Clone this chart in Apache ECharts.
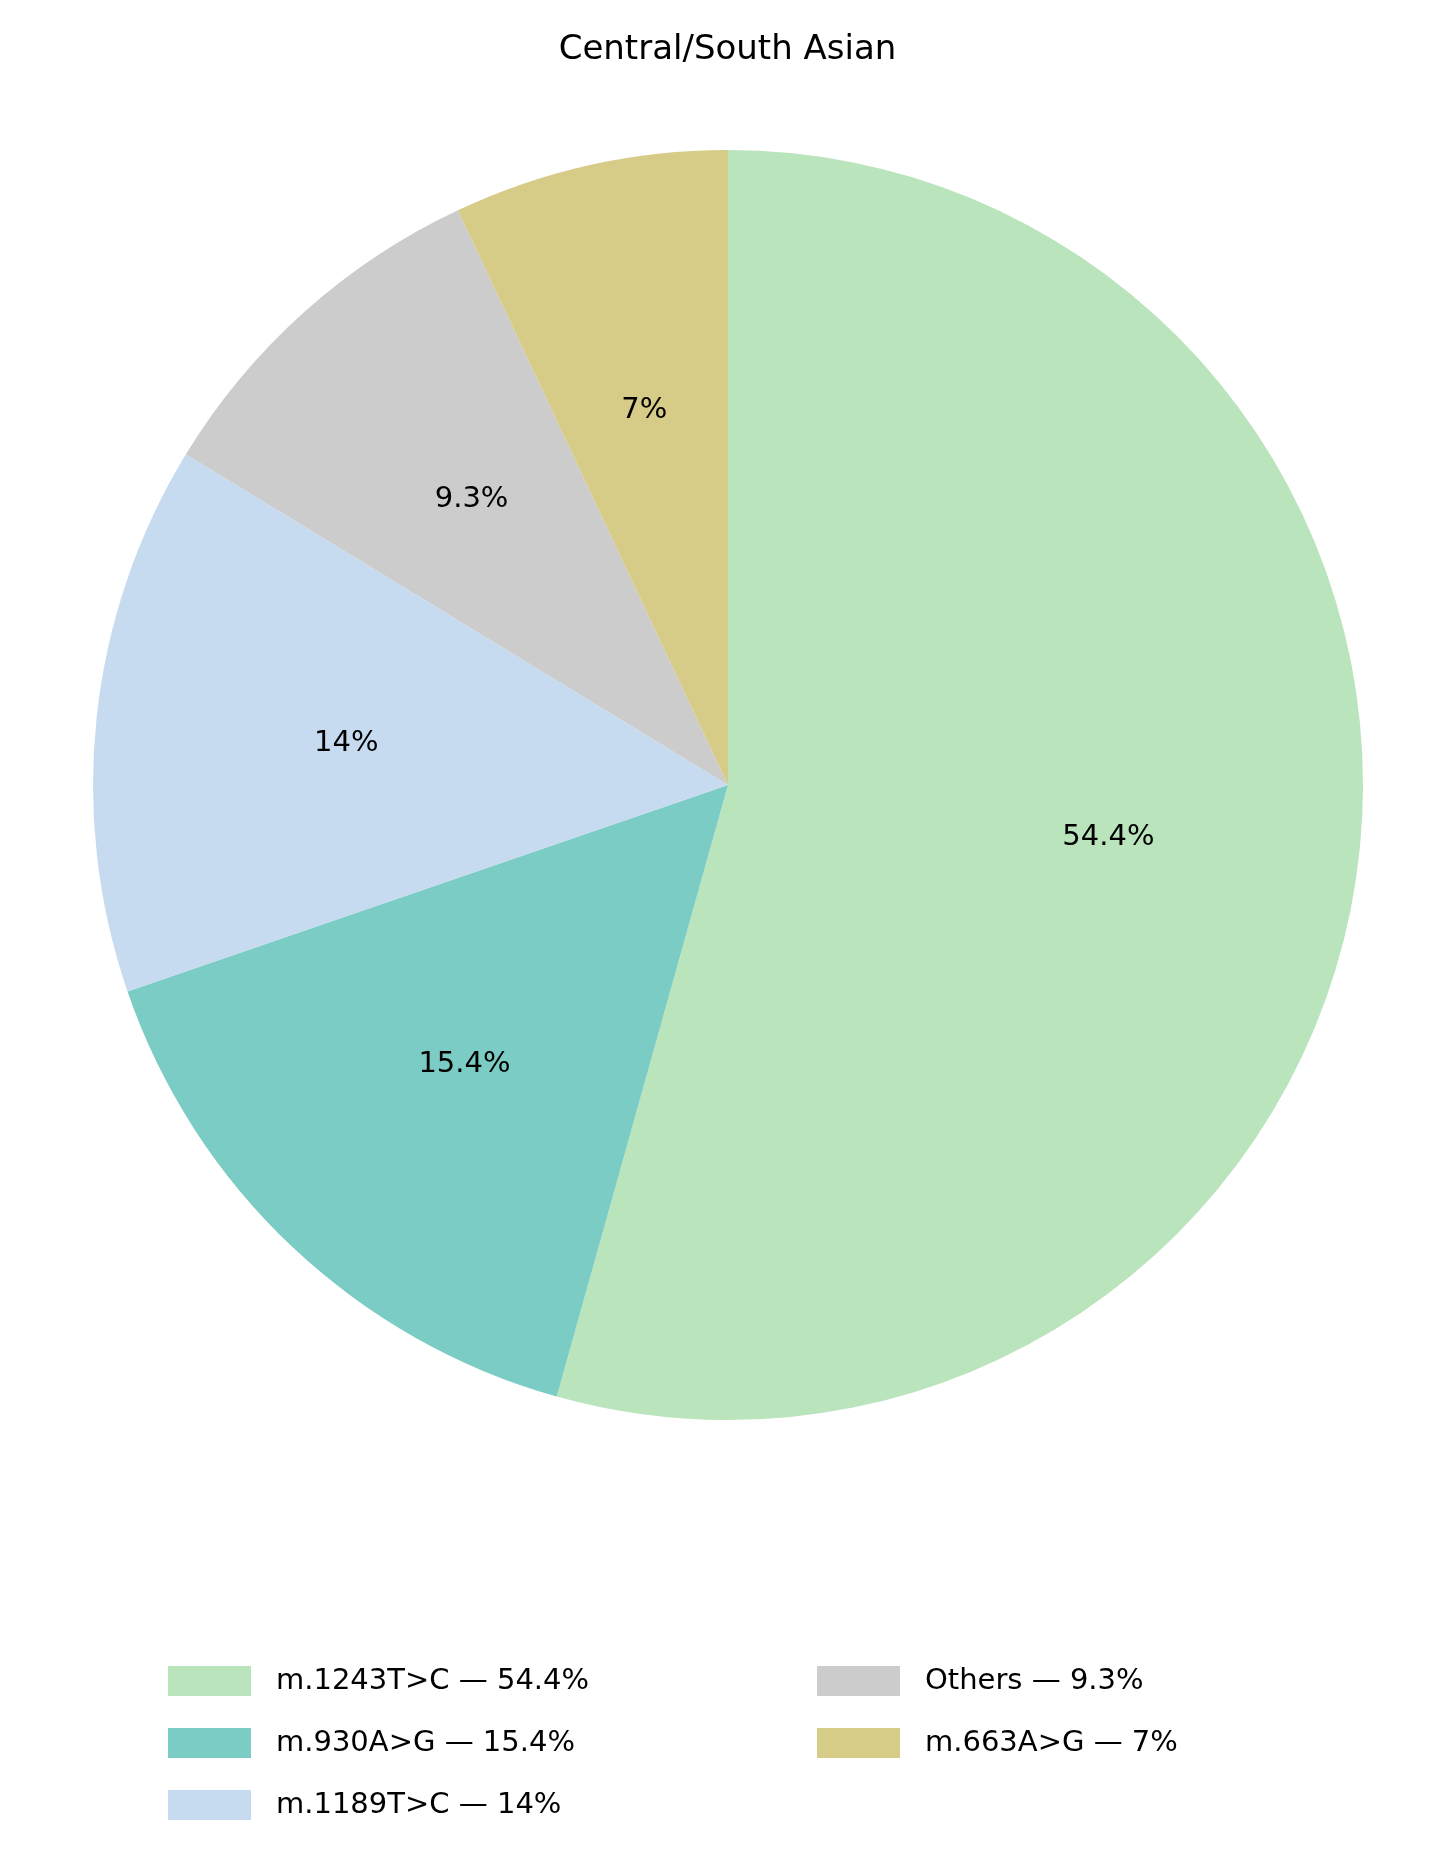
<!DOCTYPE html>
<html>
<head>
<meta charset="utf-8">
<script src="https://cdn.jsdelivr.net/npm/echarts@6/dist/echarts.min.js"></script>
<style>body{margin:0;background:#fff}#main{width:1455px;height:1869px}</style>
</head>
<body>
<div id="main"></div>
<script>
const names = ['m.1243T>C', 'm.930A>G', 'm.1189T>C', 'Others', 'm.663A>G'];
const values = [54.4, 15.4, 14, 9.3, 7];
const colors = ['#bae4bc', '#7bccc4', '#c6dbef', '#cccccc', '#d6cb87'];

const chart = echarts.init(document.getElementById('main'));
const data = names.map((n, i) => ({ name: n, value: values[i], itemStyle: { color: colors[i] } }));
const font = 'DejaVu Sans';
const legendBase = {
  orient: 'vertical', top: 1661, itemWidth: 83, itemHeight: 30, itemGap: 32,
  icon: 'rect',
  textStyle: { fontFamily: font, fontSize: 29, color: '#000', padding: [0, 0, 0, 20] },
  formatter: n => n + ' — ' + values[names.indexOf(n)] + '%'
};
chart.setOption({
  animation: false,
  title: { text: 'Central/South Asian', left: 'center', top: 28,
    textStyle: { fontFamily: font, fontSize: 34, fontWeight: 'normal', color: '#000' } },
  legend: [
    Object.assign({ left: 163, data: names.slice(0, 3) }, legendBase),
    Object.assign({ left: 812, data: names.slice(3) }, legendBase)
  ],
  series: [
    { type: 'pie', center: [728, 785], radius: [0, 635], startAngle: 90, clockwise: true,
      data: data, label: { show: false }, labelLine: { show: false }, silent: true },
    { type: 'pie', center: [728, 785], radius: [0, 762], startAngle: 90, clockwise: true,
      data: names.map((n, i) => ({ name: n + ' ', value: values[i] })),
      itemStyle: { color: 'rgba(0,0,0,0)' }, silent: true, legendHoverLink: false,
      label: { show: true, position: 'inside', formatter: p => p.value + '%',
        fontFamily: font, fontSize: 29, color: '#000' } }
  ]
});
</script>
</body>
</html>
